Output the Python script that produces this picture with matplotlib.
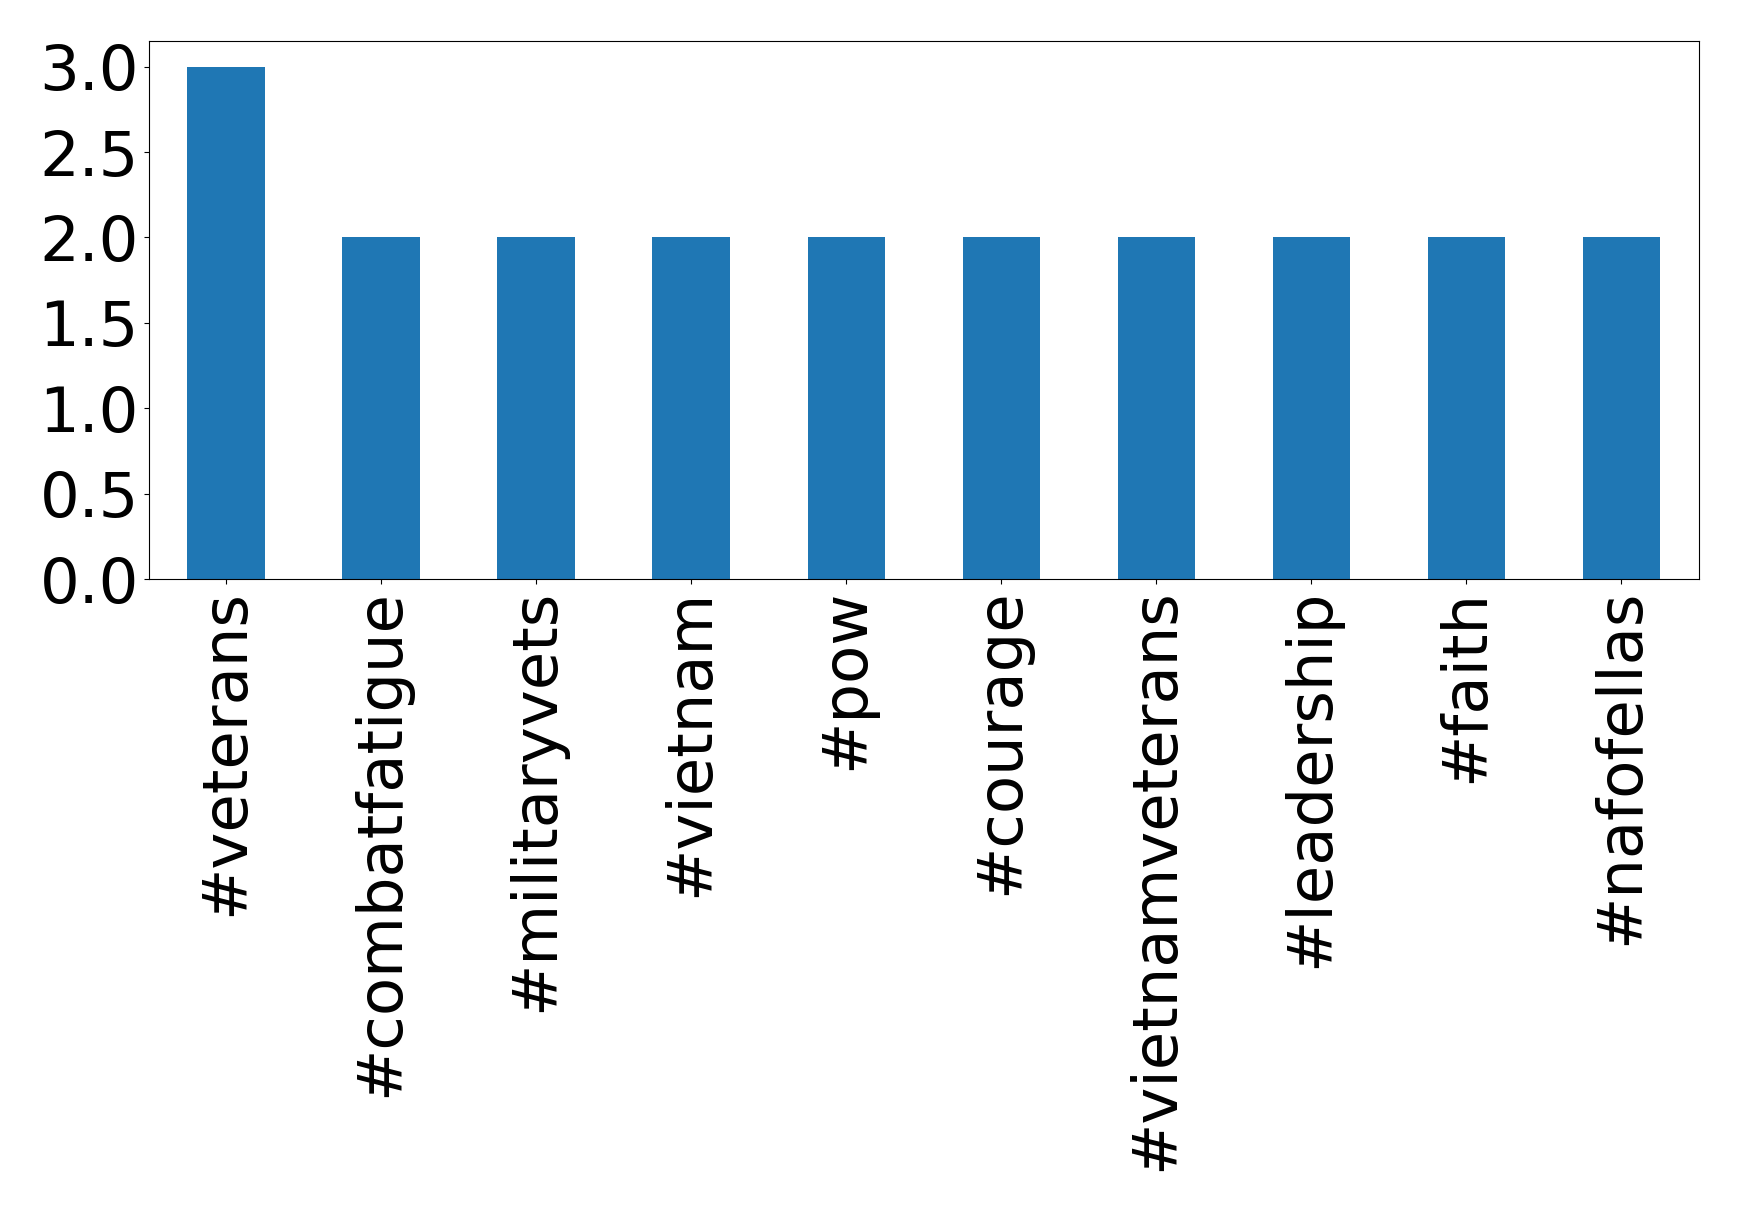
import matplotlib
matplotlib.use("Agg")
import matplotlib.pyplot as plt

tags = ["#veterans", "#combatfatigue", "#militaryvets", "#vietnam", "#pow",
        "#courage", "#vietnamveterans", "#leadership", "#faith", "#nafofellas"]
counts = [3, 2, 2, 2, 2, 2, 2, 2, 2, 2]
yticks = [0.0, 0.5, 1.0, 1.5, 2.0, 2.5, 3.0]

fig = plt.figure(figsize=(17.39, 12.11), dpi=100)
ax = fig.add_axes([148.6/1739, 1 - 579/1211, (1699-148.6)/1739, (579-41)/1211])
x = list(range(len(tags)))
ax.bar(x, counts, width=0.5, color="#1f77b4")
ax.set_xlim(-0.5, len(tags) - 0.5)
ax.set_xticks(x)
ax.set_xticklabels(tags, rotation=90, fontsize=45)
ax.set_yticks(yticks)
ax.set_yticklabels([f"{v:.1f}" for v in yticks])
ax.tick_params(axis="y", labelsize=45)
fig.savefig("out.png", dpi=100)
